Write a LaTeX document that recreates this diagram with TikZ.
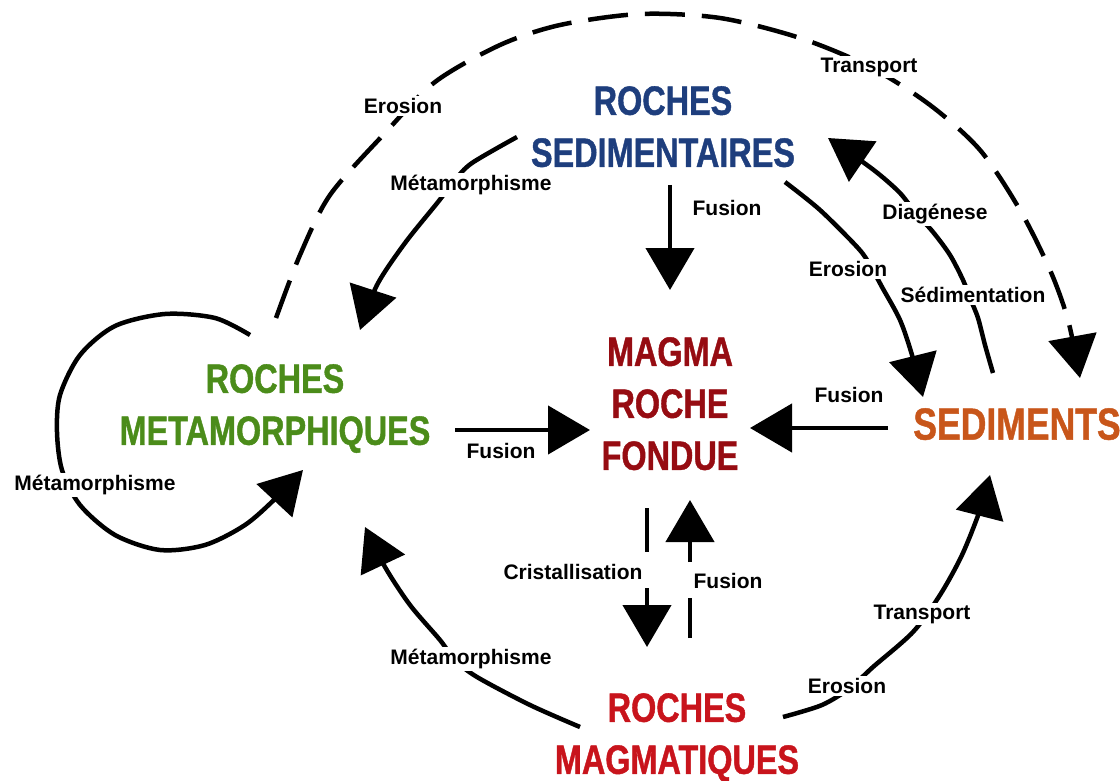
\documentclass[tikz,border=0pt]{standalone}
\usepackage{fontspec}
\setmainfont{Liberation Sans}
\newfontfamily\ttlfont{Liberation Sans}[FakeStretch=0.79,FakeBold=1]
\usetikzlibrary{arrows.meta}
\definecolor{sedblue}{RGB}{30,62,125}
\definecolor{metgreen}{RGB}{75,140,26}
\definecolor{magmared}{RGB}{150,12,18}
\definecolor{sedorange}{RGB}{200,86,26}
\definecolor{magred}{RGB}{200,20,28}
\begin{document}
\begin{tikzpicture}[x=1pt,y=-1pt,
  ttl/.style={font=\ttlfont\bfseries\fontsize{41}{52}\selectfont, align=center, inner sep=0pt, anchor=north},
  lbl/.style={font=\bfseries\fontsize{21}{24}\selectfont, fill=white, inner sep=2pt},
  con/.style={line width=4.5pt, -{Triangle[length=42pt,width=48pt]}},
  dsh/.style={con, dash pattern=on 40pt off 17pt}
]
\useasboundingbox (0,0) rectangle (1120,781);

% titles
\node[ttl, text=sedblue] (sed) at (663,86) {ROCHES\\SEDIMENTAIRES};
\node[ttl, text=metgreen] (met) at (275,364) {ROCHES\\METAMORPHIQUES};
\node[ttl, text=magmared] (magma) at (670,337) {MAGMA\\ROCHE\\FONDUE};
\node[ttl, text=sedorange, font=\ttlfont\bfseries\fontsize{45}{52}\selectfont] (sedi) at (1017,408) {SEDIMENTS};
\node[ttl, text=magred] (mag) at (677,693) {ROCHES\\MAGMATIQUES};

% connector end points
\coordinate (metA) at (276,318);
\coordinate (sediA) at (1080,378);
\coordinate (loopS) at (250,335);
\coordinate (loopE) at (303,470);
\coordinate (sedB) at (517,137);
\coordinate (metB) at (360,330);
\coordinate (sedC) at (670,185);
\coordinate (magmaC) at (670,290);
\coordinate (sedD) at (785,182);
\coordinate (sediD) at (923,397);
\coordinate (sediE) at (993,373);
\coordinate (sedE) at (828,138);
\coordinate (metF) at (455,430);
\coordinate (magmaF) at (590,430);
\coordinate (sediG) at (888,428);
\coordinate (magmaG) at (750,428);
\coordinate (magmaH) at (647,508);
\coordinate (magH) at (647,647);
\coordinate (magI) at (690,638);
\coordinate (magmaI) at (690,500);
\coordinate (magJ) at (580,727);
\coordinate (metJ) at (365,527);
\coordinate (magK) at (783,717);
\coordinate (sediK) at (990,475);

% connectors
\draw[dsh] plot[smooth] coordinates {(metA) (300,255) (330,195) (385,133) (435,82) (500,45) (560,25) (640,14) (720,18) (800,38) (870,67) (930,105) (980,150) (1020,210) (1050,270) (1068,320) (sediA)};
\draw[con] plot[smooth] coordinates {(loopS) (215,318) (165,314) (115,326) (80,355) (60,395) (57,432) (62,470) (80,505) (115,535) (160,550) (205,545) (245,525) (276,498) (loopE)};
\draw[con] plot[smooth] coordinates {(sedB) (472,163) (455,180) (438,202) (405,243) (377,285) (metB)};
\draw[con] (sedC) -- (magmaC);
\draw[con] plot[smooth] coordinates {(sedD) (820,210) (858,248) (870,265) (882,287) (900,320) (912,355) (sediD)};
\draw[con] plot[smooth] coordinates {(sediE) (985,345) (978,318) (970,298) (963,280) (950,255) (933,232) (915,212) (900,193) (880,175) (860,160) (sedE)};
\draw[con] (metF) -- (magmaF);
\draw[con] (sediG) -- (magmaG);
\draw[con, dash pattern=on 44pt off 36pt] (magmaH) -- (magH);
\draw[con, dash pattern=on 40pt off 36pt] (magI) -- (magmaI);
\draw[con] plot[smooth] coordinates {(magJ) (530,705) (477,677) (455,660) (440,640) (410,605) (385,567) (metJ)};
\draw[con] plot[smooth] coordinates {(magK) (822,705) (850,688) (873,667) (913,632) (940,595) (962,555) (980,510) (sediK)};

% labels
\node[lbl] (l1) at (403,106) {Erosion};
\node[lbl] (l2) at (869,67) {Transport};
\node[lbl] (l3) at (471,185) {Métamorphisme};
\node[lbl] (l4) at (727,208) {Fusion};
\node[lbl] (l5) at (935,214) {Diagénese};
\node[lbl] (l6) at (848,269) {Erosion};
\node[lbl] (l7) at (973,295) {Sédimentation};
\node[lbl] (l8) at (849,395) {Fusion};
\node[lbl] (l9) at (501,451) {Fusion};
\node[lbl] (l10) at (95,485) {Métamorphisme};
\node[lbl] (l11) at (573,572) {Cristallisation};
\node[lbl] (l12) at (728,581) {Fusion};
\node[lbl] (l13) at (922,614) {Transport};
\node[lbl] (l14) at (471,659) {Métamorphisme};
\node[lbl] (l15) at (847,686) {Erosion};
\end{tikzpicture}
\end{document}
